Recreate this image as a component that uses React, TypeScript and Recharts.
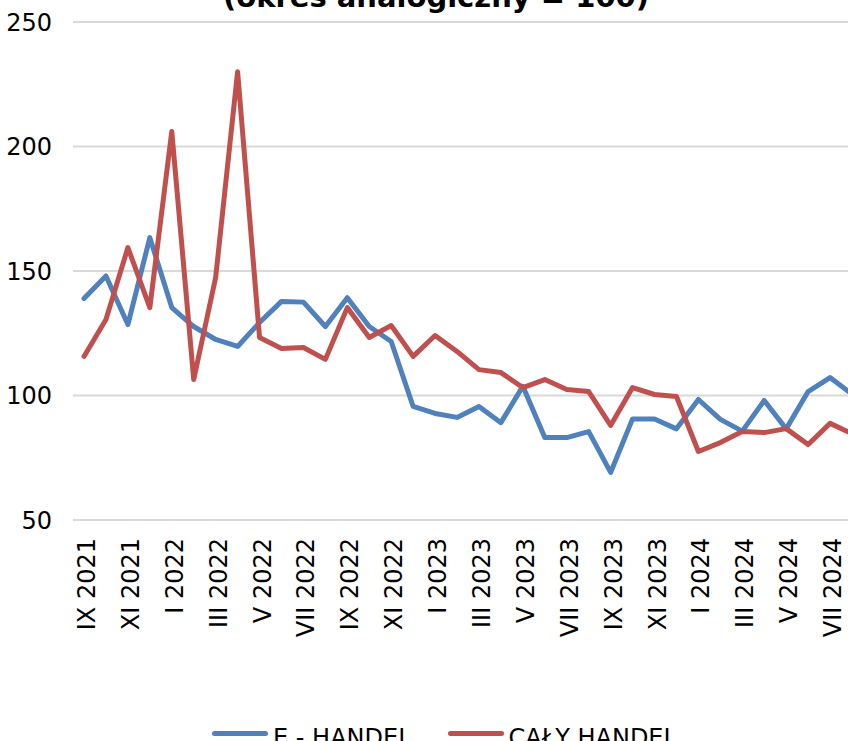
import { CartesianGrid, Legend, Line, LineChart, XAxis, YAxis } from 'recharts';

const months = [
  'IX 2021', 'X 2021', 'XI 2021', 'XII 2021',
  'I 2022', 'II 2022', 'III 2022', 'IV 2022', 'V 2022', 'VI 2022',
  'VII 2022', 'VIII 2022', 'IX 2022', 'X 2022', 'XI 2022', 'XII 2022',
  'I 2023', 'II 2023', 'III 2023', 'IV 2023', 'V 2023', 'VI 2023',
  'VII 2023', 'VIII 2023', 'IX 2023', 'X 2023', 'XI 2023', 'XII 2023',
  'I 2024', 'II 2024', 'III 2024', 'IV 2024', 'V 2024', 'VI 2024',
  'VII 2024', 'VIII 2024',
];

const eHandel = [
  139, 148, 128.5, 163.4, 135.3, 127.7, 122.5, 119.7, 129.3, 137.8,
  137.5, 127.7, 139.3, 127.7, 121.7, 95.6, 92.8, 91.2, 95.6, 89.1,
  103.7, 83.1, 83.1, 85.5, 69.1, 90.6, 90.6, 86.6, 98.4, 90.4,
  85.7, 98, 86.6, 101.6, 107.2, 100.5,
];

const calyHandel = [
  115.7, 130.5, 159.4, 135.3, 206, 106.4, 147.4, 230, 123.3, 118.9,
  119.3, 114.5, 135.3, 123.3, 128.1, 115.7, 124.1, 117.7, 110.4, 109.2,
  103.2, 106.4, 102.4, 101.6, 88, 103.2, 100.4, 99.6, 77.5, 81.1,
  85.5, 85.1, 86.7, 80.3, 88.8, 84.7,
];

const yTicks = [50, 100, 150, 200, 250];

const series = [
  { key: 'eHandel', name: 'E - HANDEL', color: '#4f81bd' },
  { key: 'calyHandel', name: 'CAŁY HANDEL', color: '#c0504d' },
];

const data = months.map((month, i) => ({
  month,
  eHandel: eHandel[i],
  calyHandel: calyHandel[i],
}));

const font = '"DejaVu Sans", Verdana, sans-serif';

const MonthTick = ({ x, y, payload }: any) => (
  <text
    x={x}
    y={y}
    dy={11}
    transform={`rotate(-90 ${x} ${y})`}
    textAnchor='end'
    fontSize={24}
    fontFamily={font}
    fill='#000'
  >
    {payload.value}
  </text>
);

const LegendContent = () => (
  <div
    style={{
      display: 'flex',
      alignItems: 'center',
      height: 30,
      fontFamily: font,
      fontSize: 24,
      color: '#000',
      whiteSpace: 'nowrap',
    }}
  >
    {series.map((s) => (
      <div key={s.key} style={{ display: 'flex', alignItems: 'center', marginRight: 36 }}>
        <div
          style={{
            width: 56,
            height: 5,
            borderRadius: 3,
            background: s.color,
            marginRight: 5,
          }}
        />
        <span style={{ position: 'relative', top: 5 }}>{s.name}</span>
      </div>
    ))}
  </div>
);

export default function App() {
  return (
    <div
      style={{
        position: 'absolute',
        left: 0,
        top: 0,
        width: 848,
        height: 741,
        overflow: 'hidden',
        background: '#fff',
      }}
    >
      <svg
        width={848}
        height={30}
        style={{ position: 'absolute', left: 0, top: 0 }}
      >
        <text
          x={436}
          y={7}
          textAnchor='middle'
          fontFamily={font}
          fontWeight='bold'
          fontSize={29}
          fill='#000'
        >
          (okres analogiczny = 100)
        </text>
      </svg>
      <LineChart
        width={900}
        height={800}
        data={data}
        margin={{ top: 22, right: 37, bottom: 160, left: 0 }}
      >
        <CartesianGrid
          vertical={false}
          stroke='#d9d9d9'
          strokeWidth={2}
        />
        <XAxis
          dataKey='month'
          interval={1}
          padding={{ left: 11, right: 11 }}
          axisLine={false}
          tickLine={false}
          tickSize={0}
          tickMargin={18}
          height={120}
          tick={<MonthTick />}
        />
        <YAxis
          domain={[50, 250]}
          ticks={yTicks}
          width={73}
          axisLine={false}
          tickLine={false}
          tickSize={0}
          tickMargin={21}
          tick={{ fontSize: 24, fontFamily: font, fill: '#000' }}
        />
        <Legend
          verticalAlign='middle'
          content={<LegendContent />}
          wrapperStyle={{ top: 718, left: 212, width: 640 }}
        />
        {series.map((s) => (
          <Line
            key={s.key}
            type='linear'
            dataKey={s.key}
            name={s.name}
            stroke={s.color}
            strokeWidth={5}
            strokeLinejoin='round'
            strokeLinecap='round'
            dot={false}
            isAnimationActive={false}
          />
        ))}
      </LineChart>
    </div>
  );
}
